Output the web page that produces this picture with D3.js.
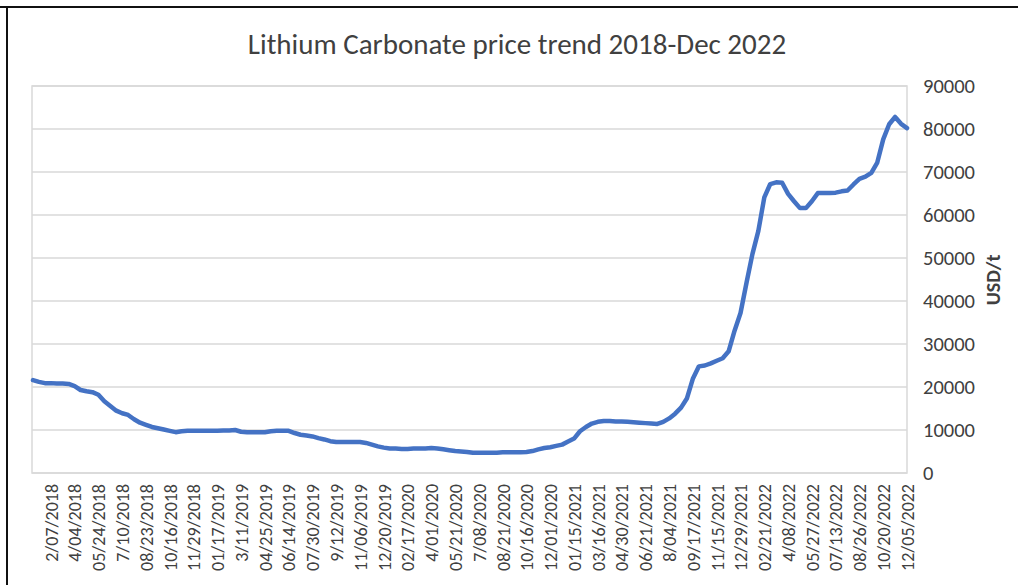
<!DOCTYPE html>
<html>
<head>
<meta charset="utf-8">
<script src="https://cdn.jsdelivr.net/npm/d3@7"></script>
<style>
  html, body { margin: 0; padding: 0; background: #fff; }
  svg { display: block; }
  text { font-family: Carlito, Calibri, Lato, "Open Sans", sans-serif; fill: #404040; }
</style>
</head>
<body>
<svg id="chart" width="1018" height="585"></svg>
<script>
// Category labels shown on the x axis (one every 4 samples)
const tickLabels = [
  "2/07/2018", "4/04/2018", "05/24/2018", "7/10/2018", "08/23/2018", "10/16/2018",
  "11/29/2018", "01/17/2019", "3/11/2019", "04/25/2019", "06/14/2019", "07/30/2019",
  "9/12/2019", "11/06/2019", "12/20/2019", "02/17/2020", "4/01/2020", "05/21/2020",
  "7/08/2020", "08/21/2020", "10/16/2020", "12/01/2020", "01/15/2021", "03/16/2021",
  "04/30/2021", "06/21/2021", "8/04/2021", "09/17/2021", "11/15/2021", "12/29/2021",
  "02/21/2022", "4/08/2022", "05/27/2022", "07/13/2022", "08/26/2022", "10/20/2022",
  "12/05/2022"
];
const firstLabelSample = 3;   // sample index of the first labelled category
const samplesPerLabel = 4;    // samples between two labelled categories

// Lithium carbonate price, USD/t
const prices = [
  21600, 21200, 20900, 20900, 20800, 20800, 20700, 20200, 19300, 19000,
  18800, 18200, 16700, 15600, 14500, 13900, 13500, 12500, 11700, 11200,
  10700, 10400, 10100, 9800, 9500, 9700, 9800, 9800, 9800, 9800,
  9800, 9800, 9900, 9900, 10000, 9600, 9500, 9500, 9500, 9500,
  9700, 9800, 9800, 9800, 9300, 8900, 8700, 8500, 8100, 7800,
  7400, 7200, 7200, 7200, 7200, 7200, 7000, 6600, 6200, 5900,
  5700, 5700, 5600, 5600, 5700, 5700, 5700, 5800, 5700, 5500,
  5300, 5100, 5000, 4900, 4700, 4700, 4700, 4700, 4700, 4800,
  4800, 4800, 4800, 4900, 5100, 5500, 5800, 6000, 6300, 6600,
  7300, 8000, 9700, 10700, 11500, 11900, 12100, 12100, 12000, 12000,
  11900, 11800, 11700, 11600, 11500, 11400, 11900, 12700, 13800, 15200,
  17400, 22000, 24800, 25000, 25500, 26100, 26700, 28300, 33100, 37200,
  44200, 50900, 56300, 64100, 67200, 67600, 67500, 64900, 63200, 61600,
  61600, 63200, 65100, 65100, 65100, 65200, 65500, 65700, 67100, 68400,
  68900, 69800, 72200, 77600, 81100, 82800, 81200, 80200
];

const yTicks = [0, 10000, 20000, 30000, 40000, 50000, 60000, 70000, 80000, 90000];

const svg = d3.select("#chart");
const plot = { left: 32, right: 907, top: 86, bottom: 473 };

// Outer frame lines
svg.append("line").attr("x1", 0).attr("x2", 1018).attr("y1", 7).attr("y2", 7)
  .attr("stroke", "#111").attr("stroke-width", 2);
svg.append("line").attr("x1", 7).attr("x2", 7).attr("y1", 7).attr("y2", 585)
  .attr("stroke", "#111").attr("stroke-width", 2);

const x = d3.scaleLinear().domain([0, prices.length - 1]).range([plot.left + 1, plot.right]);
const y = d3.scaleLinear().domain([0, 90000]).range([plot.bottom, plot.top]);

// Horizontal gridlines
svg.append("g")
  .selectAll("line").data(yTicks).join("line")
  .attr("x1", plot.left).attr("x2", plot.right)
  .attr("y1", d => y(d)).attr("y2", d => y(d))
  .attr("stroke", "#d9d9d9").attr("stroke-width", 1.5);

// Plot area border
svg.append("rect")
  .attr("x", plot.left).attr("y", plot.top)
  .attr("width", plot.right - plot.left).attr("height", plot.bottom - plot.top)
  .attr("fill", "none").attr("stroke", "#d9d9d9").attr("stroke-width", 1.5);

// Right value axis
const yAxis = d3.axisRight(y).tickValues(yTicks).tickSize(0).tickPadding(16)
  .tickFormat(d3.format("d"));
const yg = svg.append("g").attr("transform", `translate(${plot.right},0)`).call(yAxis);
yg.select(".domain").remove();
yg.selectAll("text").attr("font-size", 20.5).attr("fill", "#404040")
  .attr("font-family", "Carlito, Calibri, Lato, sans-serif");

// Bottom category axis
const labelIdx = tickLabels.map((_, i) => firstLabelSample + i * samplesPerLabel);
const xAxis = d3.axisBottom(x).tickValues(labelIdx).tickSize(0)
  .tickFormat((d, i) => tickLabels[i]);
const xg = svg.append("g").attr("transform", `translate(0,${plot.bottom})`).call(xAxis);
xg.select(".domain").remove();
xg.selectAll("text")
  .attr("font-size", 18).attr("fill", "#333")
  .attr("font-family", "Carlito, Calibri, Lato, sans-serif")
  .attr("text-anchor", "end")
  .attr("transform", "rotate(-90)")
  .attr("x", -11).attr("y", 0).attr("dy", "0.35em");

// Price line
const line = d3.line().x((d, i) => x(i)).y(d => y(d));
svg.append("path").datum(prices)
  .attr("d", line)
  .attr("fill", "none")
  .attr("stroke", "#4472C4")
  .attr("stroke-width", 4.5)
  .attr("stroke-linejoin", "round")
  .attr("stroke-linecap", "round");

// Title
svg.append("text")
  .attr("x", 517).attr("y", 54)
  .attr("text-anchor", "middle")
  .attr("font-size", 29)
  .attr("fill", "#1a1a1a")
  .text("Lithium Carbonate price trend 2018-Dec 2022");

// Axis title
svg.append("text")
  .attr("transform", "translate(993,280) rotate(-90)")
  .attr("text-anchor", "middle")
  .attr("dy", "0.35em")
  .attr("font-size", 20)
  .attr("font-weight", "bold")
  .attr("fill", "#333")
  .text("USD/t");
</script>
</body>
</html>
